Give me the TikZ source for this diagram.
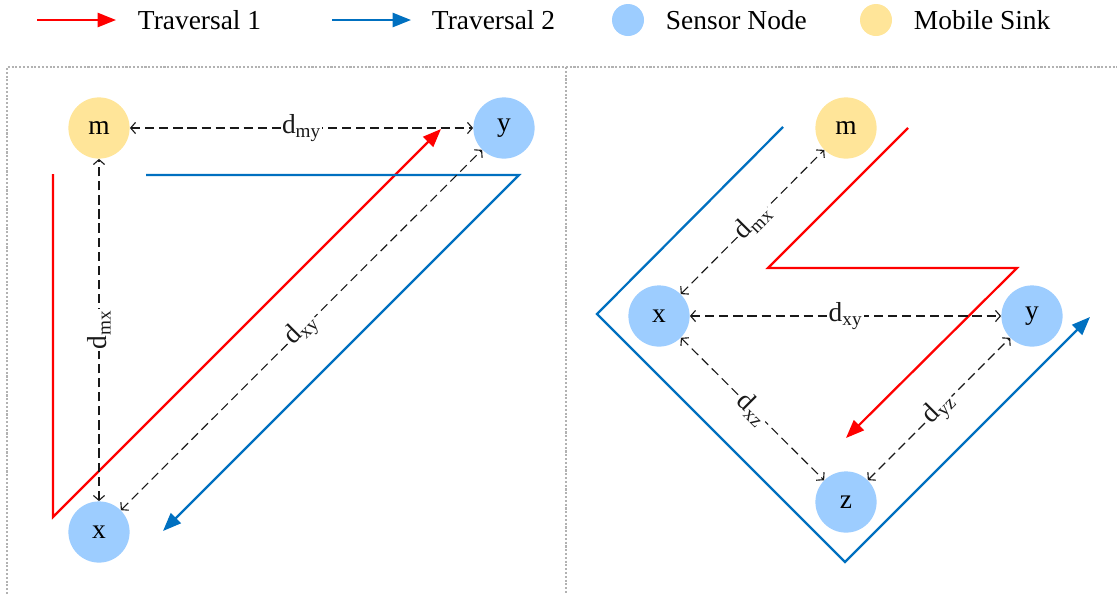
\documentclass[tikz,border=0pt]{standalone}
\usepackage{fontspec}
\setmainfont{Liberation Serif}
\usetikzlibrary{arrows.meta}

\definecolor{travred}{RGB}{255,0,0}
\definecolor{travblue}{RGB}{0,112,192}
\definecolor{sensorfill}{RGB}{157,205,255}
\definecolor{sinkfill}{RGB}{255,229,153}

\begin{document}
\begin{tikzpicture}[x=0.025cm,y=-0.025cm,
	font=\fontsize{19.5}{23}\selectfont,
	sensor/.style={circle,fill=sensorfill,minimum size=1.53cm,inner sep=0pt},
	sink/.style={circle,fill=sinkfill,minimum size=1.53cm,inner sep=0pt},
	trav1/.style={draw=travred,line width=1.6pt,-{Triangle[length=13pt,width=10pt]}},
	trav2/.style={draw=travblue,line width=1.6pt,-{Triangle[length=13pt,width=10pt]}},
	dist/.style={black!90,line width=0.8pt,dash pattern=on 6.5pt off 3.5pt,
		{Straight Barb[length=3.5pt,width=8pt]}-{Straight Barb[length=3.5pt,width=8pt]}},
	dlabel/.style={fill=white,inner sep=1pt,sloped},
	panel/.style={draw=black!30,line width=0.8pt,dash pattern=on 1.5pt off 1.2pt}]
	\useasboundingbox (0,0) rectangle (1117,594);

	% legend
	\draw[trav1] (37,20) -- (116,20);
	\node[anchor=west] (lt1) at (133,20) {Traversal 1};
	\draw[trav2] (332,20) -- (411,20);
	\node[anchor=west] (lt2) at (427,20) {Traversal 2};
	\node[circle,fill=sensorfill,minimum size=0.8cm] (lsn) at (628,20) {};
	\node[anchor=west] (lst) at (661,20) {Sensor Node};
	\node[circle,fill=sinkfill,minimum size=0.8cm] (lms) at (876,20) {};
	\node[anchor=west] (lmt) at (909,20) {Mobile Sink};

	% panel frames
	\draw[panel] (7,594) -- (7,67) -- (1117,67);
	\draw[panel] (566,67) -- (566,594);

	% left: three nodes
	\node[sink] (lm) at (99,128) {m};
	\node[sensor] (ly) at (504,128) {y};
	\node[sensor] (lx) at (99,532) {x};

	\draw[trav1] (53,174) -- (53,517) -- (441,129);
	\draw[trav2] (146,175) -- (519,175) -- (163,531);

	\draw[dist] (lm) -- node[dlabel] {d\textsubscript{my}} (ly);
	\draw[dist] (lx) -- node[dlabel] {d\textsubscript{mx}} (lm);
	\draw[dist] (lx) -- node[dlabel] {d\textsubscript{xy}} (ly);

	% right: four nodes
	\node[sink] (rm) at (846,128) {m};
	\node[sensor] (rx) at (659,316) {x};
	\node[sensor] (ry) at (1032,316) {y};
	\node[sensor] (rz) at (846,502) {z};

	\draw[trav2] (783,127) -- (597,314) -- (845,562) -- (1090,317);
	\draw[trav1] (908,128) -- (768,268) -- (1017,268) -- (846,438);

	\draw[dist] (rx) -- node[dlabel] {d\textsubscript{mx}} (rm);
	\draw[dist] (rx) -- node[dlabel] {d\textsubscript{xy}} (ry);
	\draw[dist] (rx) -- node[dlabel] {d\textsubscript{xz}} (rz);
	\draw[dist] (rz) -- node[dlabel] {d\textsubscript{yz}} (ry);
\end{tikzpicture}
\end{document}
